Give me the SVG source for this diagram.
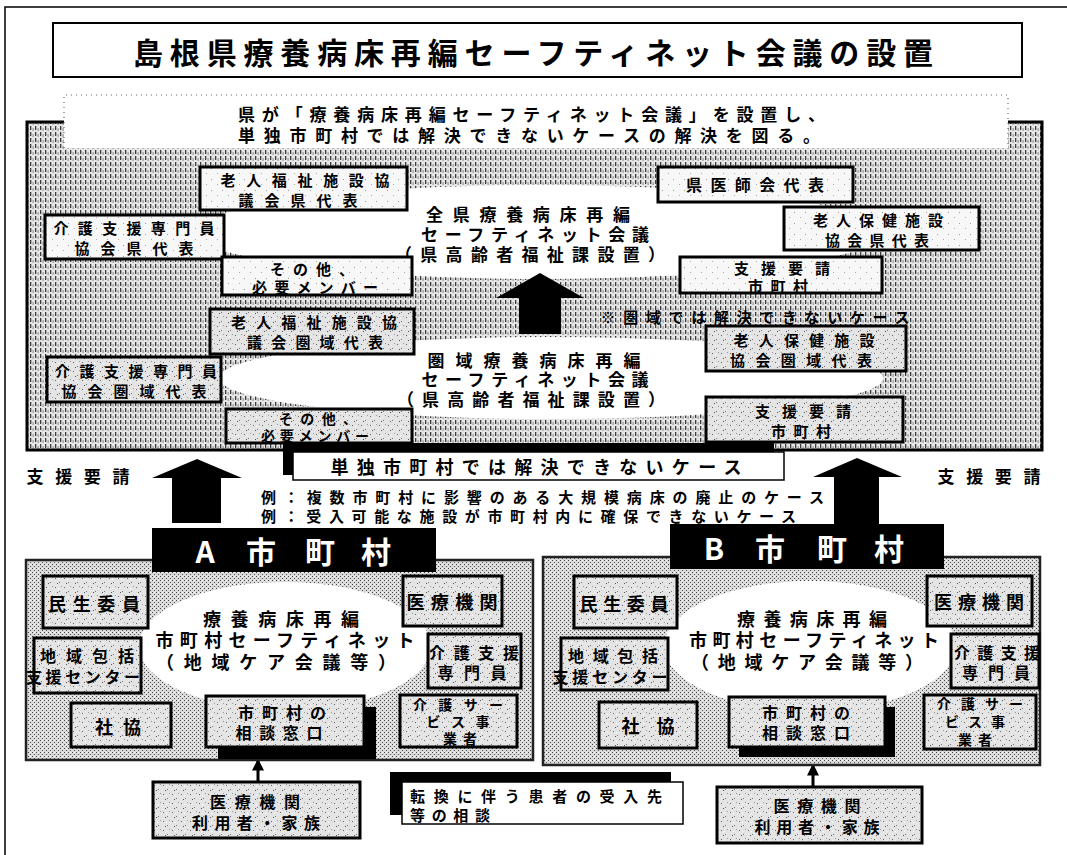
<svg xmlns="http://www.w3.org/2000/svg" width="1067" height="855" viewBox="0 0 1067 855">
<defs>
<pattern id="hatch" width="5" height="6" patternUnits="userSpaceOnUse">
<rect width="5" height="6" fill="#e6e6e6"/>
<rect x="0" y="0" width="1.3" height="4" fill="#3a3a3a"/>
<rect x="2.6" y="2" width="1" height="3" fill="#8a8a8a"/>
</pattern>
<pattern id="stip" width="4" height="4" patternUnits="userSpaceOnUse">
<rect width="4" height="4" fill="#dadada"/>
<rect x="0" y="0" width="1" height="1" fill="#444"/>
<rect x="2" y="2" width="1" height="1" fill="#555"/>
<rect x="2" y="0" width="1" height="1" fill="#fff"/>
</pattern>
<pattern id="speck" width="9" height="9" patternUnits="userSpaceOnUse">
<rect width="9" height="9" fill="#e4e4e4"/>
<rect x="1" y="2" width="1" height="1" fill="#666"/>
<rect x="5" y="6" width="1" height="1" fill="#777"/>
<rect x="7" y="1" width="1" height="1" fill="#999"/>
<rect x="3" y="7" width="1" height="1" fill="#555"/>
<rect x="4" y="3" width="1" height="1" fill="#fff"/>
</pattern>
<pattern id="light" width="11" height="11" patternUnits="userSpaceOnUse">
<rect width="11" height="11" fill="#f7f7f7"/>
<rect x="2" y="3" width="1" height="1" fill="#999"/>
<rect x="8" y="8" width="1" height="1" fill="#aaa"/>
</pattern>
<marker id="ah" viewBox="0 0 10 10" refX="8" refY="5" markerWidth="4" markerHeight="4" orient="auto">
<path d="M0,0 L10,5 L0,10 Z" fill="#000"/>
</marker>
<style>
.t{font-family:"Noto Sans CJK JP","Noto Sans CJK SC",sans-serif;font-weight:700;fill:#000;text-anchor:middle;dominant-baseline:central}
.ts{text-anchor:start}
.f15{font-size:15px}
.f16{font-size:16px}
.f17{font-size:17px}
.f18{font-size:18px}
.f19{font-size:19px}
.bx{stroke:#000;stroke-width:3}
.up{fill:url(#light)}
.sp{fill:url(#speck)}
.ell{fill:#fff}
.big{fill:#000}
.thin{stroke:#000;stroke-width:3;fill:none;marker-end:url(#ah)}
</style>
</defs>
<rect width="1067" height="855" fill="#fff"/>
<path d="M5,855 V7 H1067" fill="none" stroke="#000" stroke-width="1.5"/>

<g id="title">
<rect x="53" y="23" width="969" height="54" fill="#fff" stroke="#000" stroke-width="2"/>
<text class="t" x="533" y="51" font-size="30" textLength="800" lengthAdjust="spacing">島根県療養病床再編セーフティネット会議の設置</text>
</g>

<g id="pref-area">
<rect x="27" y="122" width="1015" height="328" fill="url(#hatch)" stroke="#000" stroke-width="3"/>
</g>

<g id="subtitle">
<rect x="64" y="95" width="944" height="53" fill="#fff"/>
<path d="M64,148 V95 H1008 V148" fill="none" stroke="#666" stroke-width="1.2" stroke-dasharray="1 4"/>
<text class="t f17 ts" x="238" y="113" textLength="587" lengthAdjust="spacing">県が「療養病床再編セーフティネット会議」を設置し、</text>
<text class="t f17 ts" x="238" y="134" textLength="582" lengthAdjust="spacing">単独市町村では解決できないケースの解決を図る。</text>
</g>

<g id="pref-meeting">
<ellipse class="ell" cx="540" cy="232" rx="345" ry="47"/>
<text class="t f17" x="528" y="213" textLength="204" lengthAdjust="spacing">全県療養病床再編</text>
<text class="t f17" x="535" y="233" textLength="228" lengthAdjust="spacing">セーフティネット会議</text>
<text class="t f17" x="530" y="253" textLength="270" lengthAdjust="spacing">（県高齢者福祉課設置）</text>
</g>

<g id="area-meeting">
<ellipse class="ell" cx="551" cy="378" rx="332" ry="41"/>
<text class="t f17" x="534" y="359" textLength="213" lengthAdjust="spacing">圏域療養病床再編</text>
<text class="t f17" x="535" y="378" textLength="227" lengthAdjust="spacing">セーフティネット会議</text>
<text class="t f17" x="531" y="398" textLength="268" lengthAdjust="spacing">（県高齢者福祉課設置）</text>
</g>

<g id="connectors">
<path class="big" d="M540,273 L584,298 L561,298 L561,334 L519,334 L519,298 L496,298 Z"/>
<path class="big" d="M197,459 L242,478 L221,478 L221,523 L172,523 L172,478 L152,478 Z"/>
<path class="big" d="M857,458 L902,477 L879,477 L879,524 L834,524 L834,477 L813,477 Z"/>
<path class="thin" d="M258,782 V761"/>
<path class="thin" d="M813,787 V766"/>
</g>

<g id="u-rojin-fukushi">
<rect class="bx up" x="200" y="167" width="207" height="43"/>
<text class="t f15" x="305" y="179" textLength="169" lengthAdjust="spacing">老人福祉施設協</text>
<text class="t f15" x="298" y="199" textLength="119" lengthAdjust="spacing">議会県代表</text>
</g>
<g id="u-kaigo-shien">
<rect class="bx up" x="45" y="215" width="179" height="44"/>
<text class="t f15" x="134" y="227" textLength="161" lengthAdjust="spacing">介護支援専門員</text>
<text class="t f15" x="134" y="247" textLength="119" lengthAdjust="spacing">協会県代表</text>
</g>
<g id="u-sonota">
<rect class="bx up" x="222" y="257" width="190" height="38"/>
<text class="t f15" x="312" y="268" textLength="84" lengthAdjust="spacing">その他、</text>
<text class="t f15" x="315" y="286" textLength="126" lengthAdjust="spacing">必要メンバー</text>
</g>
<g id="u-ishikai">
<rect class="bx up" x="658" y="167" width="195" height="35"/>
<text class="t f16" x="755" y="184" textLength="138" lengthAdjust="spacing">県医師会代表</text>
</g>
<g id="u-rojin-hoken">
<rect class="bx up" x="784" y="207" width="195" height="43"/>
<text class="t f15" x="878" y="219" textLength="130" lengthAdjust="spacing">老人保健施設</text>
<text class="t f15" x="877" y="239" textLength="104" lengthAdjust="spacing">協会県代表</text>
</g>
<g id="u-shien">
<rect class="bx up" x="680" y="257" width="202" height="36"/>
<text class="t f15" x="782" y="267" textLength="96" lengthAdjust="spacing">支援要請</text>
<text class="t f15" x="778" y="285" textLength="60" lengthAdjust="spacing">市町村</text>
</g>

<g id="area-note">
<text class="t f15" x="755" y="316" textLength="309" lengthAdjust="spacing" fill="#111">※圏域では解決できないケース</text>
</g>
<g id="m-rojin-fukushi">
<rect class="bx sp" x="210" y="309" width="204" height="45"/>
<text class="t f15" x="314" y="321" textLength="166" lengthAdjust="spacing">老人福祉施設協</text>
<text class="t f15" x="315" y="341" textLength="136" lengthAdjust="spacing">議会圏域代表</text>
</g>
<g id="m-kaigo-shien">
<rect class="bx sp" x="47" y="357" width="174" height="45"/>
<text class="t f15" x="136" y="370" textLength="162" lengthAdjust="spacing">介護支援専門員</text>
<text class="t f15" x="134" y="390" textLength="145" lengthAdjust="spacing">協会圏域代表</text>
</g>
<g id="m-sonota">
<rect class="bx sp" x="226" y="409" width="186" height="34"/>
<text class="t f14" style="font-size:14px" x="318" y="418" textLength="78" lengthAdjust="spacing">その他、</text>
<text class="t" style="font-size:14px" x="315" y="435" textLength="108" lengthAdjust="spacing">必要メンバー</text>
</g>
<g id="m-rojin-hoken">
<rect class="bx sp" x="706" y="326" width="200" height="45"/>
<text class="t f15" x="804" y="339" textLength="141" lengthAdjust="spacing">老人保健施設</text>
<text class="t f15" x="801" y="359" textLength="142" lengthAdjust="spacing">協会圏域代表</text>
</g>
<g id="m-shien">
<rect class="bx sp" x="706" y="397" width="197" height="45"/>
<text class="t f15" x="803" y="410" textLength="96" lengthAdjust="spacing">支援要請</text>
<text class="t f15" x="801" y="430" textLength="60" lengthAdjust="spacing">市町村</text>
</g>

<g id="banner">
<rect x="283" y="443" width="491" height="32" fill="#000"/>
<rect x="293" y="452" width="491" height="28" fill="#fff" stroke="#000" stroke-width="1.5"/>
<text class="t f18" x="536" y="466" textLength="411" lengthAdjust="spacing">単独市町村では解決できないケース</text>
</g>

<g id="labels">
<text class="t f17" x="78" y="475" textLength="103" lengthAdjust="spacing">支援要請</text>
<text class="t f17" x="989" y="475" textLength="103" lengthAdjust="spacing">支援要請</text>
<text class="t f15 ts" x="261" y="496" textLength="563" lengthAdjust="spacing">例：複数市町村に影響のある大規模病床の廃止のケース</text>
<text class="t f15 ts" x="261" y="515" textLength="535" lengthAdjust="spacing">例：受入可能な施設が市町村内に確保できないケース</text>
</g>

<g id="city-a">
<rect x="26" y="560" width="507" height="200" fill="url(#stip)" stroke="#222" stroke-width="2.5"/>
<rect x="152" y="528" width="284" height="44" fill="#000"/>
<text class="t" font-size="30" x="205 261 320 376" y="550" style="fill:#fff">A市町村</text>
<ellipse class="ell" cx="285" cy="646" rx="146" ry="64"/>
<text class="t f18" x="281" y="618" textLength="156" lengthAdjust="spacing">療養病床再編</text>
<text class="t f18" x="285" y="639" textLength="259" lengthAdjust="spacing">市町村セーフティネット</text>
<text class="t f18" x="276" y="661" textLength="240" lengthAdjust="spacing">（地域ケア会議等）</text>
</g>
<g id="a-minsei"><rect class="bx sp" x="43" y="576" width="105" height="52"/><text class="t f18" x="94" y="603" textLength="92" lengthAdjust="spacing">民生委員</text></g>
<g id="a-iryo"><rect class="bx sp" x="403" y="576" width="99" height="50"/><text class="t f18" x="452" y="601" textLength="91" lengthAdjust="spacing">医療機関</text></g>
<g id="a-houkatsu"><rect class="bx sp" x="34" y="638" width="107" height="55"/><text class="t f16" x="87" y="655" textLength="94" lengthAdjust="spacing">地域包括</text><text class="t f16" x="83" y="676" textLength="114" lengthAdjust="spacing">支援センター</text></g>
<g id="a-kaigo-shien"><rect class="bx sp" x="428" y="634" width="93" height="54"/><text class="t f16" x="474" y="652" textLength="90" lengthAdjust="spacing">介護支援</text><text class="t f16" x="472" y="672" textLength="69" lengthAdjust="spacing">専門員</text></g>
<g id="a-shakyo"><rect class="bx sp" x="71" y="703" width="100" height="44"/><text class="t f18" x="118" y="726" textLength="46" lengthAdjust="spacing">社協</text></g>
<g id="a-madoguchi"><rect x="218" y="707" width="158" height="52" fill="#000"/><rect class="bx sp" x="206" y="696" width="158" height="51"/><text class="t f16" x="282" y="712" textLength="88" lengthAdjust="spacing">市町村の</text><text class="t f16" x="279" y="732" textLength="87" lengthAdjust="spacing">相談窓口</text></g>
<g id="a-kaigo-service"><rect class="bx sp" x="400" y="695" width="117" height="52"/><text class="t" style="font-size:14px" x="458" y="704" textLength="90" lengthAdjust="spacing">介護サー</text><text class="t" style="font-size:14px" x="458" y="721" textLength="63" lengthAdjust="spacing">ビス事</text><text class="t" style="font-size:14px" x="460" y="738" textLength="34" lengthAdjust="spacing">業者</text></g>

<g id="city-b">
<rect x="543" y="557" width="497" height="208" fill="url(#stip)" stroke="#222" stroke-width="2.5"/>
<rect x="670" y="524" width="274" height="45" fill="#000"/>
<text class="t" font-size="30" x="714 770 832 889" y="547" style="fill:#fff">B市町村</text>
<ellipse class="ell" cx="810" cy="646" rx="146" ry="65"/>
<text class="t f18" x="812" y="618" textLength="150" lengthAdjust="spacing">療養病床再編</text>
<text class="t f18" x="814" y="639" textLength="250" lengthAdjust="spacing">市町村セーフティネット</text>
<text class="t f18" x="807" y="661" textLength="232" lengthAdjust="spacing">（地域ケア会議等）</text>
</g>
<g id="b-minsei"><rect class="bx sp" x="574" y="576" width="103" height="52"/><text class="t f18" x="624" y="603" textLength="89" lengthAdjust="spacing">民生委員</text></g>
<g id="b-iryo"><rect class="bx sp" x="927" y="576" width="105" height="50"/><text class="t f18" x="979" y="601" textLength="90" lengthAdjust="spacing">医療機関</text></g>
<g id="b-houkatsu"><rect class="bx sp" x="561" y="638" width="107" height="52"/><text class="t f16" x="613" y="655" textLength="90" lengthAdjust="spacing">地域包括</text><text class="t f16" x="610" y="676" textLength="115" lengthAdjust="spacing">支援センター</text></g>
<g id="b-kaigo-shien"><rect class="bx sp" x="951" y="634" width="88" height="54"/><text class="t f16" x="997" y="652" textLength="86" lengthAdjust="spacing">介護支援</text><text class="t f16" x="996" y="672" textLength="68" lengthAdjust="spacing">専門員</text></g>
<g id="b-shakyo"><rect class="bx sp" x="599" y="702" width="98" height="46"/><text class="t f18" x="648" y="725" textLength="53" lengthAdjust="spacing">社協</text></g>
<g id="b-madoguchi"><rect x="739" y="707" width="156" height="50" fill="#000"/><rect class="bx sp" x="729" y="697" width="156" height="50"/><text class="t f16" x="806" y="712" textLength="88" lengthAdjust="spacing">市町村の</text><text class="t f16" x="806" y="732" textLength="88" lengthAdjust="spacing">相談窓口</text></g>
<g id="b-kaigo-service"><rect class="bx sp" x="924" y="695" width="112" height="54"/><text class="t" style="font-size:14px" x="980" y="703" textLength="86" lengthAdjust="spacing">介護サー</text><text class="t" style="font-size:14px" x="975" y="721" textLength="60" lengthAdjust="spacing">ビス事</text><text class="t" style="font-size:14px" x="975" y="739" textLength="34" lengthAdjust="spacing">業者</text></g>

<g id="a-user">
<rect class="bx sp" x="153" y="782" width="207" height="56"/>
<text class="t f16" x="255" y="801" textLength="90" lengthAdjust="spacing">医療機関</text>
<text class="t f16" x="256" y="822" textLength="128" lengthAdjust="spacing">利用者・家族</text>
</g>
<g id="b-user">
<rect class="bx sp" x="717" y="787" width="205" height="56"/>
<text class="t f16" x="817" y="805" textLength="87" lengthAdjust="spacing">医療機関</text>
<text class="t f16" x="817" y="826" textLength="125" lengthAdjust="spacing">利用者・家族</text>
</g>
<g id="consult">
<rect x="390" y="772" width="281" height="43" fill="#000"/>
<rect x="402" y="782" width="281" height="42" fill="#fff" stroke="#000" stroke-width="1.5"/>
<text class="t f15 ts" x="410" y="795" textLength="252" lengthAdjust="spacing">転換に伴う患者の受入先</text>
<text class="t f15 ts" x="410" y="814" textLength="80" lengthAdjust="spacing">等の相談</text>
</g>
</svg>
